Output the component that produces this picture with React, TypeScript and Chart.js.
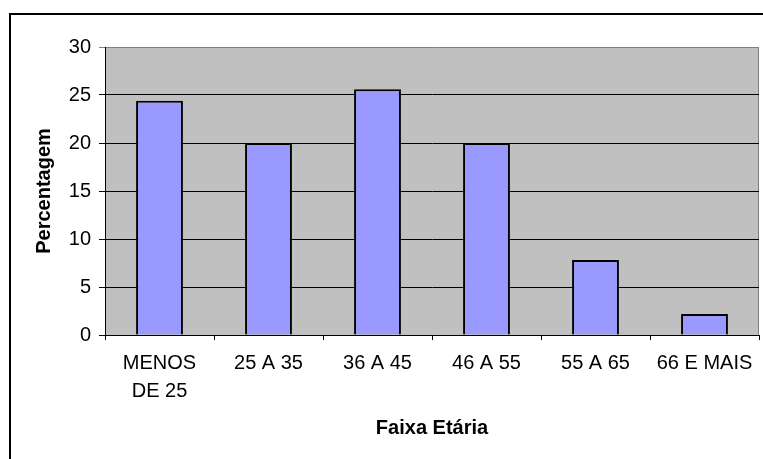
import React, { useEffect, useRef } from "react";
import { Chart, registerables } from "chart.js";

Chart.register(...registerables);

const categories: (string | string[])[] = [["MENOS", "DE 25"], "25 A 35", "36 A 45", "46 A 55", "55 A 65", "66 E MAIS"];
const percentages = [24.4, 20.0, 25.6, 20.0, 7.8, 2.2];
const yMin = 0;
const yMax = 30;
const yStep = 5;
const xTitle = "Faixa Etária";
const yTitle = "Percentagem";

const FONT = '"Liberation Sans", Arial, Helvetica, sans-serif';

const plotBg = {
  id: "plotBg",
  beforeDraw(chart: any) {
    const { ctx, chartArea: a } = chart;
    ctx.save();
    ctx.fillStyle = "#C0C0C0";
    ctx.fillRect(a.left, a.top, a.right - a.left, a.bottom - a.top);
    ctx.strokeStyle = "#808080";
    ctx.lineWidth = 1;
    ctx.beginPath();
    ctx.moveTo(a.right - 0.5, a.top);
    ctx.lineTo(a.right - 0.5, a.bottom);
    ctx.stroke();
    ctx.restore();
  },
};

export default function App() {
  const ref = useRef<HTMLCanvasElement | null>(null);

  useEffect(() => {
    if (!ref.current) return;
    const chart = new Chart(ref.current, {
      type: "bar",
      data: {
        labels: categories,
        datasets: [
          {
            data: percentages,
            backgroundColor: "#9999FF",
            borderColor: "#000000",
            borderWidth: 2,
            barPercentage: 0.43,
            categoryPercentage: 1,
          },
        ],
      },
      options: {
        animation: false,
        responsive: false,
        devicePixelRatio: 1,
        layout: { padding: { top: 47, right: 4, left: 0, bottom: 0 } },
        plugins: {
          legend: { display: false },
          tooltip: { enabled: false },
        },
        scales: {
          x: {
            grid: { drawOnChartArea: false, tickLength: 5, color: "#000000", offset: true },
            border: { color: "#000000", width: 1 },
            ticks: {
              font: { size: 20, family: FONT, lineHeight: 1.385 },
              color: "#000000",
              padding: 10,
              maxRotation: 0,
              autoSkip: false,
            },
            title: {
              display: true,
              text: xTitle,
              font: { size: 20, family: FONT, weight: "bold" },
              color: "#000000",
              padding: { top: 0, bottom: 19 },
            },
            afterFit(s: any) {
              s.height = 124;
            },
          },
          y: {
            min: yMin,
            max: yMax,
            ticks: {
              stepSize: yStep,
              font: { size: 20, family: FONT },
              color: "#000000",
              padding: 8,
            },
            grid: {
              color: (c: any) => (c.tick && c.tick.value === yMax ? "#808080" : "#000000"),
              tickLength: 6,
            },
            border: { color: "#000000", width: 1 },
            title: {
              display: true,
              text: yTitle,
              font: { size: 20, family: FONT, weight: "bold" },
              color: "#000000",
              padding: { top: 32, bottom: 0 },
            },
            afterFit(s: any) {
              s.width = 105;
            },
          },
        },
      },
      plugins: [plotBg],
    } as any);
    return () => chart.destroy();
  }, []);

  return (
    <div style={{ position: "absolute", left: 0, top: 0, width: 763, height: 459, overflow: "hidden", background: "#fff" }}>
      <div
        style={{
          position: "absolute",
          left: 9,
          top: 13,
          width: 800,
          height: 600,
          border: "2px solid #000",
          boxSizing: "border-box",
        }}
      />
      <canvas ref={ref} width={763} height={459} style={{ position: "absolute", left: 0, top: 0, display: "block" }} />
    </div>
  );
}
